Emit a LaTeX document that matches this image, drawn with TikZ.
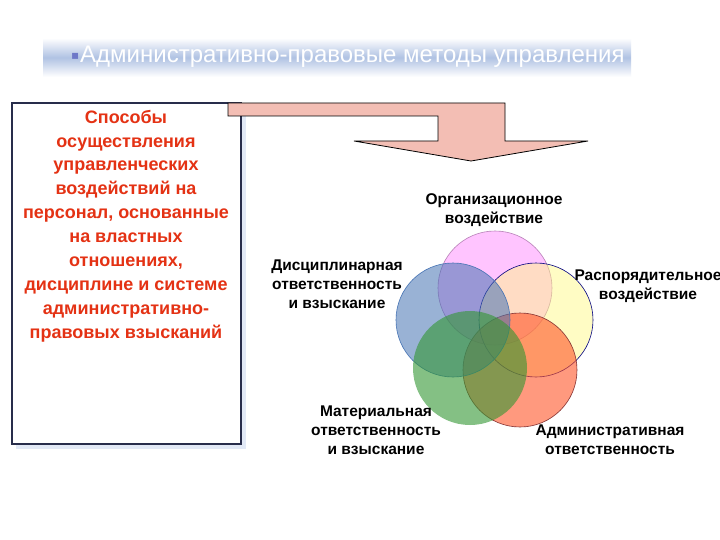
\documentclass[tikz,border=0pt]{standalone}
\usepackage{fontspec}
\setmainfont{Liberation Sans}
\newfontfamily\symb{DejaVu Sans}
\usepackage{tikz}

\definecolor{bande}{RGB}{176,194,227}
\definecolor{rouge}{RGB}{228,50,20}
\definecolor{saumon}{RGB}{243,190,180}
\definecolor{bordure}{RGB}{40,45,75}
\definecolor{ombre}{RGB}{226,233,246}
\definecolor{puce}{RGB}{110,120,200}
\definecolor{rose}{RGB}{255,125,255}
\definecolor{jaune}{RGB}{255,250,125}
\definecolor{corange}{RGB}{255,85,40}
\definecolor{vert}{RGB}{50,150,50}
\definecolor{bleu}{RGB}{70,115,180}

\tikzset{
  cercle/.style={circle, minimum size=114pt, inner sep=0pt, line width=0.6pt},
  etiquette/.style={font=\bfseries\fontsize{15.5}{19}\selectfont, align=center}
}

\begin{document}
\begin{tikzpicture}[x=1pt, y=-1pt]
    \useasboundingbox (0, 0) rectangle (720, 540);
    \fill[white] (0, 0) rectangle (720, 540);

    % bandeau du titre
    \shade[top color=white, bottom color=white, middle color=bande] (43, 38) rectangle (631, 77);
    \node[text=puce, font=\symb\fontsize{12}{12}\selectfont, anchor=base west, inner sep=0pt] (puce) at (71, 60) {▪};
    \node[text=white, font=\fontsize{24}{24}\selectfont, anchor=base west, inner sep=0pt] (titre) at (80, 63) {Административно-правовые методы управления};

    % cadre de gauche
    \fill[ombre] (16, 107) rectangle (246, 449);
    \node[draw=bordure, line width=1.2pt, fill=white, minimum width=229pt, minimum height=341pt, inner sep=0pt] (cadre) at (126.5, 273.5) {};
    \node[text=rouge, font=\bfseries\fontsize{18}{23.9}\selectfont, align=center] (methodes) at (126, 226)
      {Способы\\осуществления\\управленческих\\воздействий на\\персонал, основанные\\на властных\\отношениях,\\дисциплине и системе\\административно-\\правовых взысканий};

    % fleche
    \draw[fill=saumon, draw=black, line width=0.8pt]
      (228, 103) -- (505, 103) -- (505, 141) -- (588, 141) -- (471, 161)
      -- (354, 141) -- (438, 141) -- (438, 116) -- (228, 116) -- cycle;

    % cercles
    \node[cercle, fill=rose, fill opacity=0.45, draw=rose!60!black!70] (org) at (495, 288) {};
    \node[cercle, fill=jaune, fill opacity=0.45, draw=blue!50!black] (rasp) at (536, 320) {};
    \node[cercle, fill=corange, fill opacity=0.6, draw=red!40!black!80] (adm) at (520, 370) {};
    \node[cercle, fill=bleu, fill opacity=0.55, draw=bleu] (disc) at (453, 320) {};
    \node[cercle, fill=vert, fill opacity=0.6, draw=none] (mat) at (470, 368) {};

    % etiquettes
    \node[etiquette] (t-org) at (494, 210) {Организационное\\воздействие};
    \node[etiquette] (t-disc) at (337, 284) {Дисциплинарная\\ответственность\\и взыскание};
    \node[etiquette] (t-rasp) at (648, 286) {Распорядительное\\воздействие};
    \node[etiquette] (t-mat) at (376, 430) {Материальная\\ответственность\\и взыскание};
    \node[etiquette] (t-adm) at (610, 440) {Административная\\ответственность};

\end{tikzpicture}
\end{document}
